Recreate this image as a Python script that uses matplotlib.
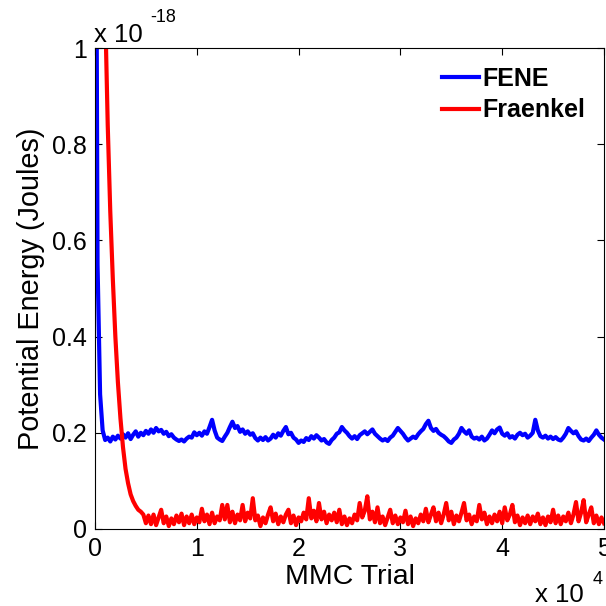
import matplotlib
matplotlib.use("Agg")
import matplotlib.pyplot as plt
import numpy as np

plt.rcParams['font.family'] = ['Liberation Sans', 'DejaVu Sans']

# MMC trial index, one sample every 250 trials
trials = np.arange(0, 50001, 250)

# potential energy in units of 1e-18 J
fene = [
    2.0, 0.55, 0.28, 0.205, 0.185, 0.19, 0.182, 0.192, 0.186, 0.194,
    0.188, 0.197, 0.19, 0.199, 0.187, 0.196, 0.203, 0.192, 0.2, 0.195,
    0.204, 0.198, 0.207, 0.2, 0.21, 0.203, 0.206, 0.198, 0.202, 0.193,
    0.197, 0.19, 0.186, 0.183, 0.186, 0.182, 0.188, 0.192, 0.19, 0.201,
    0.195, 0.2, 0.194, 0.203, 0.198, 0.212, 0.227, 0.205, 0.19, 0.186,
    0.183, 0.192, 0.2, 0.212, 0.223, 0.21, 0.214, 0.202, 0.207, 0.198,
    0.203, 0.196, 0.199, 0.189, 0.184, 0.19, 0.185, 0.191, 0.184, 0.188,
    0.196, 0.19, 0.199, 0.194, 0.204, 0.212, 0.197, 0.2, 0.19, 0.186,
    0.179, 0.184, 0.181, 0.189, 0.185, 0.193, 0.188, 0.195, 0.19, 0.184,
    0.187, 0.18, 0.177, 0.185, 0.19, 0.198, 0.201, 0.212, 0.205, 0.2,
    0.193, 0.188, 0.193, 0.187, 0.195, 0.199, 0.203, 0.197, 0.202, 0.207,
    0.198, 0.193, 0.188, 0.184, 0.187, 0.183, 0.19, 0.194, 0.202, 0.21,
    0.204, 0.198, 0.19, 0.184, 0.188, 0.192, 0.189, 0.197, 0.203, 0.208,
    0.218, 0.225, 0.21, 0.204, 0.208, 0.2, 0.196, 0.193, 0.188, 0.182,
    0.179, 0.186, 0.19, 0.198, 0.21, 0.203, 0.198, 0.205, 0.192, 0.188,
    0.19, 0.186, 0.192, 0.184, 0.188, 0.196, 0.205, 0.199, 0.207, 0.211,
    0.198, 0.194, 0.199, 0.19, 0.193, 0.188, 0.196, 0.2, 0.195, 0.198,
    0.19, 0.194, 0.2, 0.227, 0.205, 0.193, 0.19, 0.194, 0.188, 0.192,
    0.187, 0.191, 0.186, 0.184, 0.19, 0.198, 0.21, 0.204, 0.199, 0.203,
    0.193, 0.186, 0.184, 0.188, 0.183, 0.19, 0.196, 0.205, 0.196, 0.19,
    0.186,
]

fraenkel = [
    3.0, 2.4, 1.85, 1.4, 1.08, 0.84, 0.66, 0.52, 0.40, 0.305,
    0.23, 0.17, 0.125, 0.095, 0.072, 0.058, 0.048, 0.04, 0.036, 0.03,
    0.012, 0.028, 0.01, 0.03, 0.008, 0.024, 0.04, 0.012, 0.026, 0.006,
    0.022, 0.01, 0.028, 0.014, 0.032, 0.008, 0.026, 0.012, 0.03, 0.01,
    0.024, 0.014, 0.042, 0.016, 0.03, 0.01, 0.034, 0.012, 0.026, 0.018,
    0.05, 0.02, 0.05, 0.014, 0.036, 0.012, 0.03, 0.018, 0.05, 0.016,
    0.034, 0.022, 0.064, 0.018, 0.028, 0.006, 0.024, 0.012, 0.03, 0.045,
    0.016, 0.032, 0.01, 0.026, 0.014, 0.03, 0.04, 0.012, 0.028, 0.008,
    0.024, 0.016, 0.034, 0.02, 0.064, 0.022, 0.038, 0.016, 0.054, 0.02,
    0.036, 0.012, 0.03, 0.018, 0.034, 0.014, 0.04, 0.01, 0.026, 0.008,
    0.022, 0.012, 0.03, 0.018, 0.054, 0.024, 0.038, 0.068, 0.02, 0.036,
    0.014, 0.045, 0.012, 0.026, 0.008, 0.024, 0.04, 0.012, 0.028, 0.01,
    0.024, 0.014, 0.038, 0.01, 0.026, 0.006, 0.022, 0.012, 0.03, 0.016,
    0.042, 0.014, 0.03, 0.045, 0.016, 0.034, 0.012, 0.03, 0.054, 0.018,
    0.036, 0.01, 0.028, 0.016, 0.034, 0.054, 0.018, 0.03, 0.01, 0.026,
    0.016, 0.05, 0.02, 0.034, 0.01, 0.026, 0.012, 0.03, 0.016, 0.036,
    0.012, 0.045, 0.018, 0.03, 0.05, 0.014, 0.028, 0.008, 0.024, 0.012,
    0.028, 0.01, 0.026, 0.016, 0.032, 0.01, 0.024, 0.008, 0.026, 0.014,
    0.04, 0.012, 0.028, 0.01, 0.026, 0.016, 0.034, 0.012, 0.03, 0.056,
    0.016, 0.034, 0.06, 0.014, 0.03, 0.045, 0.012, 0.028, 0.01, 0.024,
    0.012,
]

x_ticks = [0, 10000, 20000, 30000, 40000, 50000]
x_ticklabels = ["0", "1", "2", "3", "4", "5"]
y_ticks = [0, 0.2, 0.4, 0.6, 0.8, 1.0]
y_ticklabels = ["0", "0.2", "0.4", "0.6", "0.8", "1"]

W = 606
fig = plt.figure(figsize=(6.06, 6.06), dpi=100)
ax = fig.add_axes([95 / W, (W - 529) / W, 509 / W, 481 / W])

ax.plot(trials, fene, color="#0000ff", lw=3.0, label="FENE")
ax.plot(trials, fraenkel, color="#ff0000", lw=3.0, label="Fraenkel")

ax.set_xlim(0, 50000)
ax.set_ylim(0, 1)
ax.set_xticks(x_ticks)
ax.set_xticklabels(x_ticklabels)
ax.set_yticks(y_ticks)
ax.set_yticklabels(y_ticklabels)
ax.tick_params(direction="in", top=True, right=True, length=5, width=0.8,
               labelsize=18, pad=6)
for s in ax.spines.values():
    s.set_linewidth(0.8)

ax.set_xlabel("MMC Trial", fontsize=20.5, labelpad=2)
ax.set_ylabel("Potential Energy (Joules)", fontsize=20.8, labelpad=5)

# exponent labels, MATLAB style
fig.text(94 / W, 1 - 42 / W, "x 10", fontsize=18.5, ha="left", va="baseline")
fig.text(150 / W, 1 - 22 / W, "-18", fontsize=13, ha="left", va="baseline")
fig.text(535 / W, 1 - 602 / W, "x 10", fontsize=18.5, ha="left", va="baseline")
fig.text(593 / W, 1 - 584 / W, "4", fontsize=13, ha="left", va="baseline")

leg = ax.legend(loc="upper right", frameon=False,
                handlelength=1.45, handletextpad=0.15, labelspacing=0.3,
                borderaxespad=0.35, prop={"weight": "bold", "size": 18})

fig.savefig("out.png", dpi=100)
